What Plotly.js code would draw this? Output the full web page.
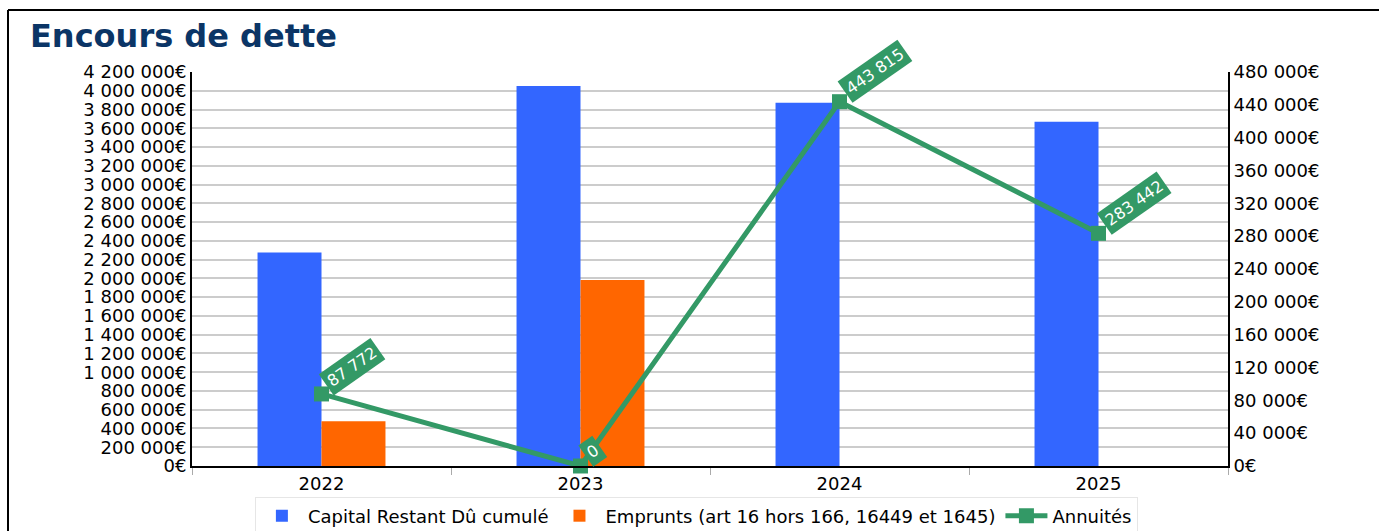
<!DOCTYPE html>
<html>
<head>
<meta charset="utf-8">
<script src="https://cdn.plot.ly/plotly-3.0.1.min.js"></script>
<style>html,body{margin:0;padding:0;background:#fff;}#chart{width:1379px;height:531px;}</style>
</head>
<body>
<div id="chart"></div>
<script>
const categories = ['2022', '2023', '2024', '2025'];
const capitalRestantDu = [2276000, 4051000, 3872000, 3669000];
const emprunts = [478000, 1982000, null, null];
const annuites = [87772, 0, 443815, 283442];
const annuiteLabels = ['87 772', '0', '443 815', '283 442'];

const seriesNames = ['Capital Restant Dû cumulé', 'Emprunts (art 16 hors 166, 16449 et 1645)', 'Annuités'];
const colors = ['#3366FF', '#FF6600', '#339966'];

const traces = [
  { type: 'bar', name: seriesNames[0], x: categories, y: capitalRestantDu, marker: { color: colors[0] }, yaxis: 'y', hoverinfo: 'skip' },
  { type: 'bar', name: seriesNames[1], x: categories, y: emprunts, marker: { color: colors[1] }, yaxis: 'y', hoverinfo: 'skip' },
  { type: 'scatter', mode: 'lines+markers', name: seriesNames[2], x: categories, y: annuites, yaxis: 'y2',
    line: { color: colors[2], width: 5 }, marker: { color: colors[2], symbol: 'square', size: 15 },
    cliponaxis: false, hoverinfo: 'skip' }
];

const annotations = categories.map((c, i) => ({
  x: i, y: annuites[i], xref: 'x', yref: 'y2', text: annuiteLabels[i], showarrow: false,
  textangle: -35, xanchor: 'left', yanchor: 'bottom', xshift: -3, yshift: -2,
  bgcolor: colors[2], borderpad: 3,
  font: { family: 'DejaVu Sans', size: 16, color: '#ffffff' }
}));

const pl = 192, pr = 1228, pt = 72, pb = 466;
const px = v => (v - pl) / (pr - pl);
const py = v => (pb - v) / (pb - pt);

const layout = {
  width: 1379, height: 531,
  margin: { l: pl, r: 1379 - pr, t: pt, b: 531 - pb, pad: 0, autoexpand: false },
  paper_bgcolor: '#ffffff', plot_bgcolor: '#ffffff',
  separators: ', ',
  barmode: 'group', bargap: 0.506, bargroupgap: 0,
  showlegend: true,
  title: { text: 'Encours de dette', x: 30 / 1379, xanchor: 'left', xref: 'container',
    y: 1 - 36 / 531, yanchor: 'middle', yref: 'container',
    font: { family: 'DejaVu Sans', size: 32, color: '#0b3566', weight: 'bold' } },
  font: { family: 'DejaVu Sans', color: '#000' },
  xaxis: { type: 'category', range: [-0.5, 3.5], autorange: false, showline: true, linecolor: '#000', linewidth: 2, showgrid: false,
    ticks: 'outside', tickson: 'boundaries', ticklen: 7, tickcolor: '#aaaaaa', tickwidth: 1, tickangle: 0,
    tickfont: { family: 'DejaVu Sans', size: 18, color: '#000' }, fixedrange: true },
  yaxis: { range: [0, 4200000], autorange: false, dtick: 200000, tick0: 0, tickformat: ',d', ticksuffix: '€',
    showline: true, linecolor: '#000', linewidth: 2, showgrid: true, gridcolor: '#cccccc', gridwidth: 2,
    ticks: '', zeroline: false, tickfont: { family: 'DejaVu Sans', size: 18, color: '#000' }, fixedrange: true },
  yaxis2: { range: [0, 480000], autorange: false, dtick: 40000, tick0: 0, tickformat: ',d', ticksuffix: '€',
    overlaying: 'y', side: 'right', showline: true, linecolor: '#000', linewidth: 2, showgrid: false,
    ticks: '', zeroline: false, tickfont: { family: 'DejaVu Sans', size: 18, color: '#000' }, fixedrange: true },
  legend: { orientation: 'h', x: 0.505, xanchor: 'center', xref: 'container', y: 1 - 516 / 531, yanchor: 'middle', yref: 'container',
    bordercolor: '#e6e6e6', borderwidth: 1, bgcolor: '#ffffff', itemwidth: 42,
    font: { family: 'DejaVu Sans', size: 18, color: '#000' }, traceorder: 'normal' },
  annotations: annotations,
  shapes: [
    { type: 'line', xref: 'paper', yref: 'paper', x0: px(8), x1: px(1379), y0: py(10), y1: py(10), line: { color: '#000', width: 2 } },
    { type: 'line', xref: 'paper', yref: 'paper', x0: px(8), x1: px(8), y0: py(10), y1: py(531), line: { color: '#000', width: 2 } }
  ]
};

Plotly.newPlot('chart', traces, layout, { displayModeBar: false, staticPlot: true });
</script>
</body>
</html>
